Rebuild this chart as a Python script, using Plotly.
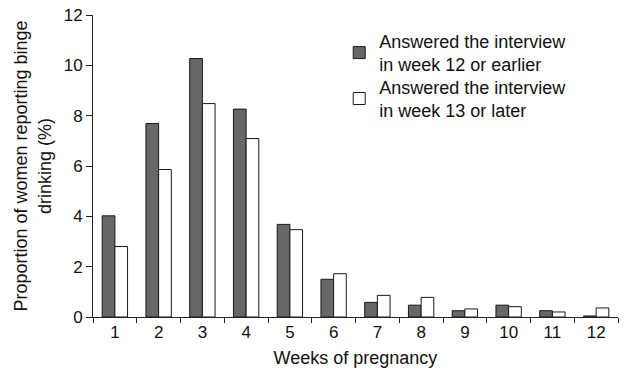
import plotly.graph_objects as go

weeks = ["1", "2", "3", "4", "5", "6", "7", "8", "9", "10", "11", "12"]
early = [4.02, 7.69, 10.27, 8.26, 3.68, 1.50, 0.58, 0.47, 0.25, 0.47, 0.25, 0.04]
late = [2.80, 5.86, 8.48, 7.09, 3.47, 1.72, 0.86, 0.78, 0.32, 0.41, 0.20, 0.36]
names = ["Answered the interview<br>in week 12 or earlier",
         "Answered the interview<br>in week 13 or later"]

font = "Liberation Sans, Arial, sans-serif"

fig = go.Figure()
fig.add_trace(go.Bar(x=weeks, y=early, name=names[0], legend="legend",
                     marker=dict(color="#676767", line=dict(color="#1a1a1a", width=1))))
fig.add_trace(go.Bar(x=weeks, y=late, name=names[1], legend="legend2",
                     marker=dict(color="#ffffff", line=dict(color="#1a1a1a", width=1))))

leg_common = dict(xanchor="left", yanchor="top", bgcolor="rgba(0,0,0,0)",
                  font=dict(size=18), tracegroupgap=0, itemwidth=30)

fig.update_layout(
    width=629, height=371,
    margin=dict(l=93, r=11, t=15, b=54, autoexpand=False),
    paper_bgcolor="white", plot_bgcolor="white",
    font=dict(family=font, size=18, color="#111"),
    barmode="group", bargap=0.42, bargroupgap=0,
    showlegend=True,
    legend=dict(x=0.469, y=0.9745, **leg_common),
    legend2=dict(x=0.469, y=0.8225, **leg_common),
    xaxis=dict(title=dict(text="Weeks of pregnancy", standoff=9, font=dict(size=18)),
               automargin=False,
               showline=True, linecolor="#222", linewidth=1,
               ticks="outside", tickson="boundaries", ticklen=5, tickcolor="#222",
               tickfont=dict(size=17), showgrid=False),
    yaxis=dict(title=dict(text="Proportion of women reporting binge<br>drinking (%)", standoff=7,
                          font=dict(size=18)),
               automargin=False,
               range=[0, 12], dtick=2, showline=True, linecolor="#222", linewidth=1,
               ticks="outside", ticklen=6, tickcolor="#222", tickfont=dict(size=17),
               showgrid=False, zeroline=False),
)

fig.write_html("out.html", config={"displayModeBar": False},
               post_script="document.body.style.margin='0';")
